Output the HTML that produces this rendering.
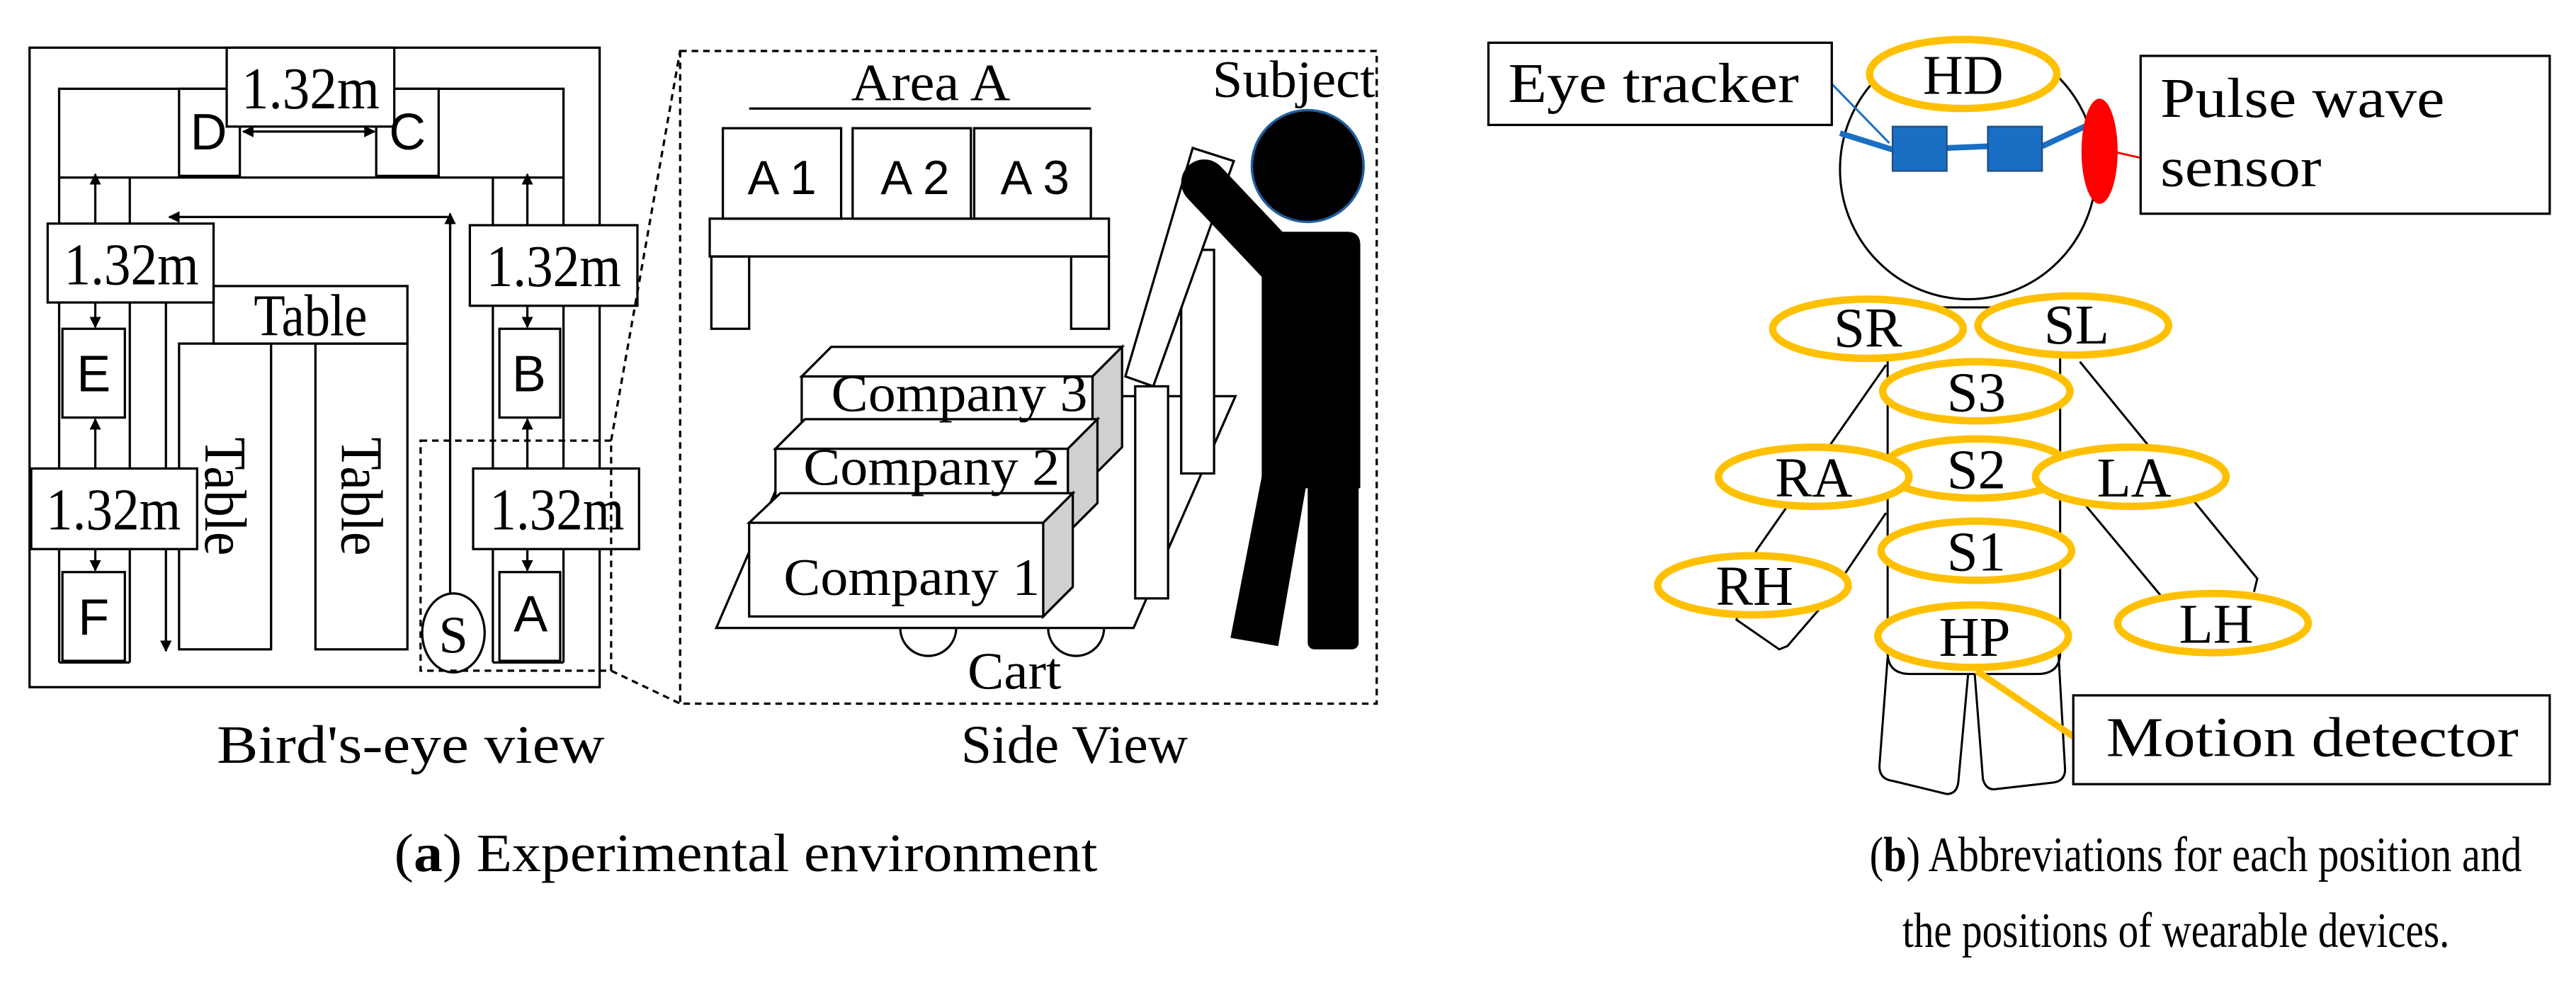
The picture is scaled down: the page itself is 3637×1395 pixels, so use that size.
<!DOCTYPE html>
<html><head><meta charset="utf-8"><style>
html,body{margin:0;padding:0;background:#fff;}
svg{display:block;}
text{font-family:"Liberation Serif",serif;fill:#000;}
.s{font-family:"Liberation Sans",sans-serif;}
</style></head><body>
<svg width="3637" height="1395" viewBox="0 0 1568 601" preserveAspectRatio="none" xmlns="http://www.w3.org/2000/svg">
<defs>
<marker id="ar" viewBox="0 0 10 10" refX="9" refY="5" markerWidth="5" markerHeight="5" orient="auto-start-reverse"><path d="M0,0L10,5L0,10z" fill="#000"/></marker>
</defs>
<g fill="none" stroke="#000" stroke-width="1.4">
<rect x="18" y="29" width="347" height="389"/>
<rect x="36" y="54" width="307" height="54"/>
<line x1="36" y1="108" x2="36" y2="403"/><line x1="79" y1="108" x2="79" y2="403"/><line x1="36" y1="403" x2="79" y2="403"/>
<line x1="300" y1="108" x2="300" y2="403"/><line x1="343" y1="108" x2="343" y2="403"/><line x1="300" y1="403" x2="343" y2="403"/>
<rect x="109" y="54" width="37" height="53" fill="#fff"/>
<rect x="229" y="54" width="38" height="53" fill="#fff"/>
<rect x="138" y="29" width="102" height="48" fill="#fff"/>
<line x1="148" y1="80" x2="228" y2="80" marker-start="url(#ar)" marker-end="url(#ar)"/>
<rect x="130" y="174" width="118" height="35"/>
<rect x="109" y="209" width="56" height="186"/>
<rect x="192" y="209" width="56" height="186"/>
<rect x="38" y="200" width="38" height="54" fill="#fff"/>
<rect x="38" y="348" width="38" height="54" fill="#fff"/>
<rect x="304" y="200" width="37" height="54" fill="#fff"/>
<rect x="304" y="348" width="37" height="54" fill="#fff"/>
<line x1="58" y1="136" x2="58" y2="106" marker-end="url(#ar)"/>
<line x1="58" y1="184" x2="58" y2="199" marker-end="url(#ar)"/>
<line x1="58" y1="285" x2="58" y2="255" marker-end="url(#ar)"/>
<line x1="58" y1="334" x2="58" y2="347" marker-end="url(#ar)"/>
<line x1="321" y1="137" x2="321" y2="106" marker-end="url(#ar)"/>
<line x1="321" y1="186" x2="321" y2="199" marker-end="url(#ar)"/>
<line x1="321" y1="285" x2="321" y2="255" marker-end="url(#ar)"/>
<line x1="321" y1="334" x2="321" y2="347" marker-end="url(#ar)"/>
<polyline points="274,361 274,132 103,132" marker-end="url(#ar)"/>
<polyline points="274,140 274,130" marker-end="url(#ar)"/>
<line x1="101" y1="184" x2="101" y2="396" marker-end="url(#ar)"/>
<rect x="29" y="136" width="101" height="48" fill="#fff"/>
<rect x="19" y="285" width="101" height="49" fill="#fff"/>
<rect x="286" y="137" width="102" height="49" fill="#fff"/>
<rect x="288" y="285" width="101" height="49" fill="#fff"/>
<ellipse cx="276" cy="385" rx="19" ry="24" fill="#fff"/>
<g stroke-dasharray="4,3">
<rect x="256" y="268" width="116" height="140"/>
<rect x="414" y="31" width="424" height="397"/>
<line x1="372" y1="268" x2="414" y2="31"/><line x1="372" y1="408" x2="414" y2="428"/>
</g>
<line x1="456" y1="66" x2="664" y2="66"/>
<rect x="440" y="78" width="72" height="55"/><rect x="519" y="78" width="72" height="55"/><rect x="593" y="78" width="71" height="55"/>
<rect x="432" y="133" width="243" height="23"/>
<rect x="433" y="156" width="23" height="44"/><rect x="652" y="156" width="23" height="44"/>
<polygon points="436,382 690,382 752,241 497,241" fill="#fff"/>
<path d="M548,382 A17,17 0 0 0 582,382"/><path d="M638,382 A17,17 0 0 0 672,382"/>
<rect x="719" y="152" width="20" height="136" fill="#fff"/>
<polygon points="726,90 751,98 702,235 685,229" fill="#fff"/>
<rect x="691" y="235" width="20" height="129" fill="#fff"/>
<polygon points="488,229 506,211 683,211 665,229" fill="#fff"/>
<polygon points="665,229 683,211 683,272 665,290" fill="#d0d0d0"/>
<rect x="488" y="229" width="177" height="61" fill="#fff"/>
<polygon points="472,273 490,255 668,255 650,273" fill="#fff"/>
<polygon points="650,273 668,255 668,306 650,324" fill="#d0d0d0"/>
<rect x="472" y="273" width="178" height="51" fill="#fff"/>
<polygon points="456,318 475,300 653,300 635,318" fill="#fff"/>
<polygon points="635,318 653,300 653,357 635,375" fill="#d0d0d0"/>
<rect x="456" y="318" width="179" height="57" fill="#fff"/>
</g>
<g fill="#000">
<circle cx="796" cy="101" r="34" stroke="#1f5fa0" stroke-width="1.5"/>
<path d="M768,141 H820 Q828,141 828,149 V297 H768 Z"/>
<line x1="733" y1="111" x2="785" y2="166" stroke="#000" stroke-width="28" stroke-linecap="round"/>
<polygon points="768,290 796,290 778,393 749,388"/>
<rect x="796" y="290" width="31" height="105" rx="4"/>
</g>
<g font-size="36">
<text x="189" y="66" text-anchor="middle" textLength="84" lengthAdjust="spacingAndGlyphs">1.32m</text>
<text x="80" y="173" text-anchor="middle" textLength="82" lengthAdjust="spacingAndGlyphs">1.32m</text>
<text x="69" y="322" text-anchor="middle" textLength="82" lengthAdjust="spacingAndGlyphs">1.32m</text>
<text x="337" y="174" text-anchor="middle" textLength="82" lengthAdjust="spacingAndGlyphs">1.32m</text>
<text x="339" y="322" text-anchor="middle" textLength="82" lengthAdjust="spacingAndGlyphs">1.32m</text>
<text x="189" y="204" text-anchor="middle" textLength="69" lengthAdjust="spacingAndGlyphs">Table</text>
<text transform="translate(125,266) rotate(90)" textLength="72" lengthAdjust="spacingAndGlyphs">Table</text>
<text transform="translate(208,266) rotate(90)" textLength="72" lengthAdjust="spacingAndGlyphs">Table</text>
<text x="276" y="397" text-anchor="middle" font-size="32">S</text>
</g>
<g class="s" font-size="31">
<text class="s" x="127" y="91" text-anchor="middle">D</text>
<text class="s" x="248" y="91" text-anchor="middle">C</text>
<text class="s" x="57" y="238" text-anchor="middle">E</text>
<text class="s" x="322" y="238" text-anchor="middle">B</text>
<text class="s" x="57" y="386" text-anchor="middle">F</text>
<text class="s" x="323" y="384" text-anchor="middle">A</text>
<text class="s" x="476" y="118" text-anchor="middle" font-size="29">A 1</text>
<text class="s" x="557" y="118" text-anchor="middle" font-size="29">A 2</text>
<text class="s" x="630" y="118" text-anchor="middle" font-size="29">A 3</text>
</g>
<g font-size="32">
<text x="518" y="61" textLength="97" lengthAdjust="spacingAndGlyphs">Area A</text>
<text x="738" y="59" textLength="99" lengthAdjust="spacingAndGlyphs">Subject</text>
<text x="506" y="250" textLength="156" lengthAdjust="spacingAndGlyphs">Company 3</text>
<text x="489" y="295" textLength="156" lengthAdjust="spacingAndGlyphs">Company 2</text>
<text x="477" y="362" textLength="156" lengthAdjust="spacingAndGlyphs">Company 1</text>
<text x="589" y="419" textLength="57" lengthAdjust="spacingAndGlyphs">Cart</text>
</g>
<g font-size="33">
<text x="132" y="464" textLength="236" lengthAdjust="spacingAndGlyphs">Bird's-eye view</text>
<text x="585" y="464" textLength="138" lengthAdjust="spacingAndGlyphs">Side View</text>
<text x="240" y="530" textLength="428" lengthAdjust="spacingAndGlyphs">(<tspan font-weight="bold">a</tspan>) Experimental environment</text>
</g>
<g font-size="30">
<text x="1138" y="530" textLength="397" lengthAdjust="spacingAndGlyphs">(<tspan font-weight="bold">b</tspan>) Abbreviations for each position and</text>
<text x="1158" y="576" textLength="333" lengthAdjust="spacingAndGlyphs">the positions of wearable devices.</text>
</g>
<g fill="none" stroke="#000" stroke-width="1.3">
<ellipse cx="1198" cy="103" rx="78" ry="79"/>
<path d="M1149,187 H1254 V397 Q1254,410 1240,410 H1163 Q1149,410 1149,397 Z" fill="#fff"/>
<polyline points="1148,222 1069,335"/>
<polyline points="1148,312 1123,349"/>
<polyline points="1069,335 1057,377 1083,395 1088,393 1107,371"/>
<polyline points="1266,220 1374,352 1372,360"/>
<polyline points="1270,308 1315,362"/>
<path d="M1149,400 L1144,466 Q1144,474 1152,475 L1185,483 Q1191,483 1192,476 L1198,410"/>
<path d="M1202,410 L1207,474 Q1209,481 1215,480 L1250,476 Q1257,475 1257,468 L1253,398"/>
</g>
<g fill="#fff" stroke="#ffc000" stroke-width="4.5">
<ellipse cx="1195" cy="45" rx="57" ry="21"/>
<ellipse cx="1137" cy="200" rx="58" ry="18"/>
<ellipse cx="1262" cy="198" rx="58" ry="18"/>
<ellipse cx="1203" cy="238" rx="57" ry="18"/>
<ellipse cx="1203" cy="285" rx="57" ry="18"/>
<ellipse cx="1104" cy="290" rx="58" ry="18"/>
<ellipse cx="1297" cy="290" rx="58" ry="18"/>
<ellipse cx="1203" cy="335" rx="58" ry="18"/>
<ellipse cx="1067" cy="356" rx="58" ry="18"/>
<ellipse cx="1347" cy="379" rx="58" ry="18"/>
<ellipse cx="1201" cy="387" rx="58" ry="19"/>
</g>
<line x1="1203" y1="408" x2="1262" y2="448" stroke="#ffc000" stroke-width="4"/>
<line x1="1114" y1="50" x2="1150" y2="87" stroke="#1a6fc4" stroke-width="1.3"/>
<line x1="1120" y1="81" x2="1152" y2="91" stroke="#1a6fc4" stroke-width="3.5"/>
<line x1="1185" y1="90" x2="1210" y2="89" stroke="#1a6fc4" stroke-width="3.5"/>
<line x1="1243" y1="89" x2="1271" y2="76" stroke="#1a6fc4" stroke-width="3.5"/>
<rect x="1152" y="77" width="33" height="27" fill="#1a6fc4" stroke="#1f4e80" stroke-width="1"/>
<rect x="1210" y="77" width="33" height="27" fill="#1a6fc4" stroke="#1f4e80" stroke-width="1"/>
<line x1="1285" y1="92" x2="1303" y2="96" stroke="#f00" stroke-width="1.3"/>
<ellipse cx="1278" cy="92" rx="11" ry="32" fill="#f00"/>
<g fill="#fff" stroke="#000" stroke-width="1.4">
<rect x="906" y="26" width="209" height="50"/>
<rect x="1303" y="34" width="249" height="96"/>
<rect x="1262" y="423" width="290" height="54"/>
</g>
<g font-size="34">
<text x="918" y="62" textLength="177" lengthAdjust="spacingAndGlyphs">Eye tracker</text>
<text x="1315" y="71" textLength="173" lengthAdjust="spacingAndGlyphs">Pulse wave</text>
<text x="1315" y="113" textLength="98" lengthAdjust="spacingAndGlyphs">sensor</text>
<text x="1282" y="460" textLength="251" lengthAdjust="spacingAndGlyphs">Motion detector</text>
<text x="1195" y="57" text-anchor="middle">HD</text>
<text x="1137" y="211" text-anchor="middle">SR</text>
<text x="1264" y="209" text-anchor="middle">SL</text>
<text x="1203" y="250" text-anchor="middle">S3</text>
<text x="1203" y="297" text-anchor="middle">S2</text>
<text x="1104" y="302" text-anchor="middle">RA</text>
<text x="1299" y="302" text-anchor="middle">LA</text>
<text x="1203" y="347" text-anchor="middle">S1</text>
<text x="1068" y="368" text-anchor="middle">RH</text>
<text x="1349" y="391" text-anchor="middle">LH</text>
<text x="1202" y="399" text-anchor="middle">HP</text>
</g>
</svg>
</body></html>
